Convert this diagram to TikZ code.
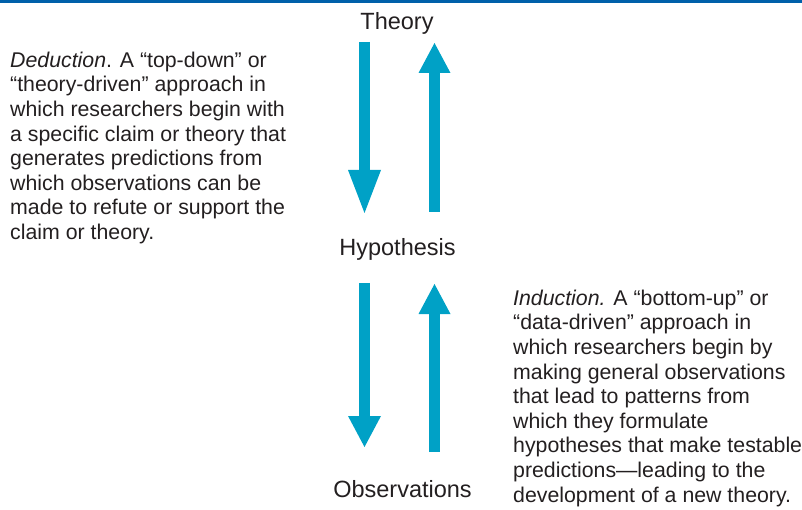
\documentclass[tikz,border=0pt]{standalone}
\usepackage{fontspec}
\setmainfont{Liberation Sans}
\usetikzlibrary{arrows.meta}

\definecolor{barblue}{RGB}{0,96,170}
\definecolor{arrowblue}{RGB}{0,161,198}
\definecolor{ink}{RGB}{35,31,32}

\tikzset{
  label/.style={font=\fontsize{23.5}{28}\selectfont, text=ink, inner sep=0pt, anchor=base},
  % multi-line paragraphs are placed by the baseline of their last line
  para/.style={font=\fontsize{21.3}{24.6}\selectfont, text=ink, inner sep=0pt, align=left, anchor=base west},
  flow/.style={draw=arrowblue, line width=11pt},
  down/.style={flow, -{Triangle[length=#1, width=33pt, line width=0pt]}},
  down/.default=31pt,
  up/.style={flow, -{Triangle[length=30pt, width=32pt, line width=0pt]}}
}

\begin{document}
\begin{tikzpicture}[x=1pt, y=-1pt]
  \useasboundingbox (0,0) rectangle (802,510);
  % rule along the top edge
  \fill[barblue] (0,0) rectangle (802,3);

  % stages
  \node[label] (theory) at (397,30) {Theory};
  \node[label] (hypo) at (397.5,256) {Hypothesis};
  \node[label] (obs) at (402.5,497) {Observations};

  % arrow ends between the stages
  \coordinate (tdA) at (364.5,42);
  \coordinate (tdB) at (364.5,213);
  \coordinate (tuA) at (434.5,212);
  \coordinate (tuB) at (434.5,43);
  \coordinate (bdA) at (364.5,283);
  \coordinate (bdB) at (364.5,447);
  \coordinate (buA) at (434.5,452);
  \coordinate (buB) at (434.5,284);

  \draw[down=43pt] (tdA) -- (tdB);
  \draw[up] (tuA) -- (tuB);
  \draw[down] (bdA) -- (bdB);
  \draw[up] (buA) -- (buB);

  % descriptions
  \node[para] (deduction) at (10,239.5) {\textit{Deduction}. A “top-down” or\\
    “theory-driven” approach in\\
    which researchers begin with\\
    a specific claim or theory that\\
    generates predictions from\\
    which observations can be\\
    made to refute or support the\\
    claim or theory.};

  \node[para] (induction) at (513,502) {\textit{Induction.} A “bottom-up” or\\
    “data-driven” approach in\\
    which researchers begin by\\
    making general observations\\
    that lead to patterns from\\
    which they formulate\\
    hypotheses that make testable\\
    predictions—leading to the\\
    development of a new theory.};
\end{tikzpicture}
\end{document}
